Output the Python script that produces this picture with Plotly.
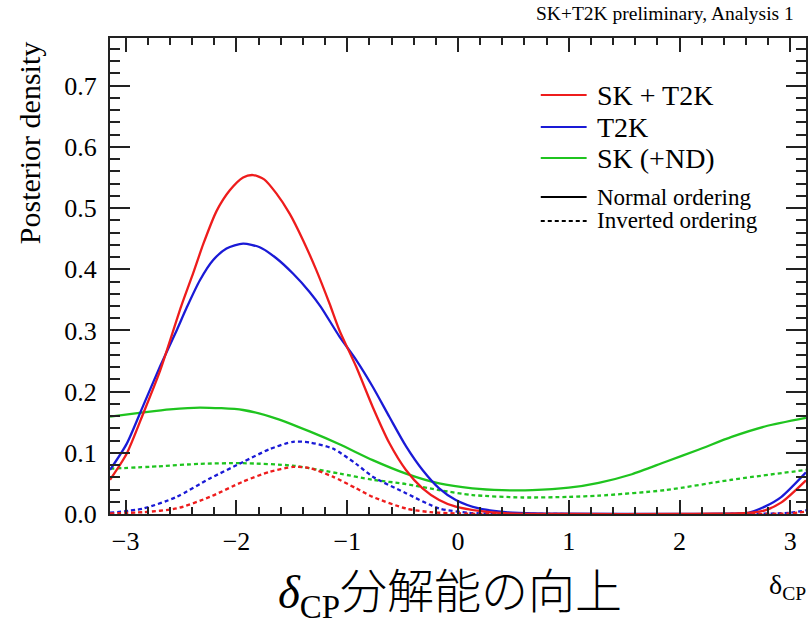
import numpy as np
import plotly.graph_objects as go

PI = np.pi

# ---- data ----
red_no_x = [-PI, -2.99, -2.84, -2.69, -2.50, -2.39, -2.30, -2.18, -2.06, -1.94, -1.85, -1.75, -1.64, -1.52,
            -1.40, -1.28, -1.16, -1.07, -0.92, -0.77, -0.62, -0.47, -0.32, -0.17, -0.02, 0.19, 0.45, 1.0,
            2.0, 2.3, 2.62, 2.77, 2.92, PI]
red_no_y = [0.056, 0.099, 0.165, 0.234, 0.339, 0.394, 0.441, 0.495, 0.529, 0.550, 0.554, 0.547, 0.524, 0.491,
            0.448, 0.399, 0.344, 0.300, 0.241, 0.175, 0.116, 0.072, 0.042, 0.023, 0.012, 0.005, 0.001, 0.0,
            0.0, 0.0005, 0.002, 0.006, 0.019, 0.055]

blue_no_x = [-PI, -2.99, -2.84, -2.69, -2.54, -2.45, -2.33, -2.21, -2.09, -1.94, -1.79, -1.64, -1.49, -1.34,
             -1.24, -1.07, -0.92, -0.77, -0.62, -0.47, -0.32, -0.17, -0.02, 0.19, 0.43, 0.7, 1.0, 2.0, 2.4,
             2.62, 2.77, 2.92, PI]
blue_no_y = [0.072, 0.115, 0.178, 0.241, 0.300, 0.337, 0.382, 0.415, 0.434, 0.442, 0.436, 0.418, 0.393, 0.363,
             0.339, 0.290, 0.252, 0.208, 0.159, 0.111, 0.072, 0.042, 0.023, 0.009, 0.003, 0.001, 0.0005, 0.0,
             0.0005, 0.002, 0.012, 0.028, 0.068]

green_no_x = [-PI, -2.84, -2.6, -2.33, -1.94, -1.64, -1.34, -1.07, -0.77, -0.47, -0.17, 0.13, 0.4, 0.67,
              1.0, 1.27, 1.57, 1.87, 2.17, 2.47, 2.77, PI]
green_no_y = [0.159, 0.166, 0.171, 0.174, 0.170, 0.156, 0.135, 0.114, 0.088, 0.066, 0.050, 0.042, 0.039, 0.039,
              0.043, 0.051, 0.065, 0.085, 0.105, 0.126, 0.143, 0.157]

green_io_x = [-PI, -2.7, -2.33, -1.94, -1.49, -1.07, -0.77, -0.47, -0.17, 0.13, 0.58, 1.0, 1.27, 1.87, 2.47, PI]
green_io_y = [0.074, 0.078, 0.082, 0.083, 0.079, 0.066, 0.056, 0.049, 0.039, 0.031, 0.027, 0.028, 0.030, 0.039,
              0.056, 0.072]

blue_io_x = [-PI, -2.84, -2.54, -2.24, -1.94, -1.70, -1.49, -1.34, -1.13, -0.92, -0.77, -0.47, -0.17, 0.1, 0.4,
             2.5, 3.0, PI]
blue_io_y = [0.002, 0.009, 0.028, 0.058, 0.085, 0.106, 0.118, 0.117, 0.107, 0.082, 0.061, 0.034, 0.009, 0.002,
             0.0005, 0.0, 0.002, 0.006]

red_io_x = [-PI, -2.84, -2.54, -2.24, -1.94, -1.70, -1.49, -1.34, -1.13, -0.92, -0.77, -0.47, -0.25, 0.0, 0.3,
            2.5, 3.0, PI]
red_io_y = [0.001, 0.003, 0.009, 0.028, 0.053, 0.069, 0.077, 0.075, 0.061, 0.042, 0.028, 0.009, 0.003, 0.001,
            0.0, 0.0, 0.001, 0.004]

x_ticks = [-3, -2, -1, 0, 1, 2, 3]
y_ticks = [0.0, 0.1, 0.2, 0.3, 0.4, 0.5, 0.6, 0.7]

legend_labels = ["SK + T2K", "T2K", "SK (+ND)"]
order_labels = ["Normal ordering", "Inverted ordering"]

RED, BLUE, GREEN = "#ee1c1c", "#1a1ad6", "#1fc41f"
SERIF = "Liberation Serif"

fig = go.Figure()

def add(x, y, color, dash):
    fig.add_trace(go.Scatter(x=x, y=y, mode="lines", showlegend=False,
                             line=dict(color=color, width=2.3, dash=dash, shape="spline", smoothing=0.7)))

DASH = "4px,3px"
add(green_io_x, green_io_y, GREEN, DASH)
add(blue_io_x, blue_io_y, BLUE, DASH)
add(red_io_x, red_io_y, RED, DASH)
add(green_no_x, green_no_y, GREEN, "solid")
add(blue_no_x, blue_no_y, BLUE, "solid")
add(red_no_x, red_no_y, RED, "solid")

# plot area in pixels
L, R, T, B = 110, 808, 38, 514
W, H = 810, 619
def px(xp):
    return (xp - L) / (R - L)
def py(yp):
    return (B - yp) / (B - T)

shapes = []
annotations = []

# legend
leg_rows = [(95, RED, "solid", legend_labels[0], 28),
            (127, BLUE, "solid", legend_labels[1], 28),
            (158, GREEN, "solid", legend_labels[2], 28),
            (197, "black", "solid", order_labels[0], 23),
            (221, "black", "dash", order_labels[1], 23)]
for yy, col, dsh, lab, fs in leg_rows:
    shapes.append(dict(type="line", xref="paper", yref="paper", x0=px(542), x1=px(588), y0=py(yy), y1=py(yy),
                       line=dict(color=col, width=2, dash=DASH if dsh == "dash" else "solid")))
    annotations.append(dict(xref="paper", yref="paper", x=px(596), y=py(yy), xanchor="left", yanchor="middle",
                            text=lab, showarrow=False, font=dict(family=SERIF, size=fs, color="black")))

# top-right title
annotations.append(dict(xref="paper", yref="paper", x=px(798), y=py(14), xanchor="right", yanchor="middle",
                        text="SK+T2K preliminary, Analysis 1", showarrow=False,
                        font=dict(family=SERIF, size=19.5, color="black")))
# y title
annotations.append(dict(xref="paper", yref="paper", x=px(29), y=py(143), xanchor="center", yanchor="middle",
                        text="Posterior density", textangle=-90, showarrow=False,
                        font=dict(family=SERIF, size=30, color="black")))
# x title
annotations.append(dict(xref="paper", yref="paper", x=px(810), y=py(586), xanchor="right", yanchor="middle",
                        text="δ<sub>CP</sub>", showarrow=False,
                        font=dict(family=SERIF, size=28, color="black")))
# big Japanese caption
annotations.append(dict(xref="paper", yref="paper", x=px(451), y=py(589), xanchor="center", yanchor="middle",
                        text='<span style="font-family:Liberation Serif"><i>δ</i><sub>CP</sub></span>分解能の向上',
                        showarrow=False,
                        font=dict(family="Noto Sans CJK JP", size=47, color="black", weight=300)))

fig.update_layout(
    width=W, height=H,
    margin=dict(l=L, r=W - R, t=T, b=H - B),
    paper_bgcolor="white", plot_bgcolor="white",
    shapes=shapes, annotations=annotations,
    xaxis=dict(range=[-PI, PI], tickvals=x_ticks, ticks="inside", ticklen=14, tickwidth=1.5, tickcolor="#222",
               showline=True, linecolor="#222", linewidth=2, mirror="allticks", showgrid=False, zeroline=False,
               tickfont=dict(family=SERIF, size=26, color="black"), ticklabelstandoff=3,
               minor=dict(dtick=0.2, tick0=0, ticks="inside", ticklen=7, tickwidth=1.5, tickcolor="#222",
                          showgrid=False)),
    yaxis=dict(range=[0, 0.778], tickvals=y_ticks, tickformat=".1f", ticks="inside", ticklen=20, tickwidth=1.5,
               tickcolor="#222", showline=True, linecolor="#222", linewidth=2, mirror="allticks",
               showgrid=False, zeroline=False, tickfont=dict(family=SERIF, size=26, color="black"),
               ticklabelstandoff=6,
               minor=dict(dtick=0.02, tick0=0, ticks="inside", ticklen=10, tickwidth=1.5, tickcolor="#222",
                          showgrid=False)),
)

fig.write_html("out.html",
               config={"displayModeBar": False},
               post_script="document.body.style.margin='0';document.body.style.padding='0';"
                           "document.body.style.overflow='hidden';"
                           "document.documentElement.style.overflow='hidden';")
